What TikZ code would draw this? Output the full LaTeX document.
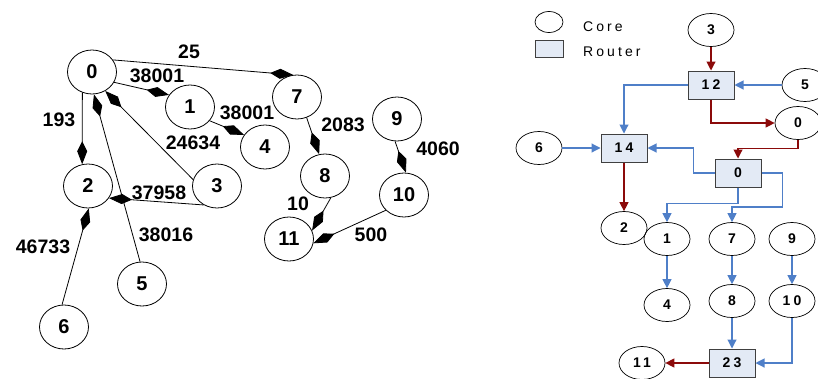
\documentclass[tikz,border=0pt]{standalone}
\usepackage{fontspec}
\setmainfont{Liberation Sans}
\newfontfamily\spaced[LetterSpace=22]{Liberation Sans}
\usetikzlibrary{shapes.geometric, arrows.meta}
\definecolor{netR}{HTML}{8B0A0A}
\definecolor{netB}{HTML}{4F7FC8}
\definecolor{rfill}{HTML}{E3EAF5}
\colorlet{rdraw}{black!75}
\tikzset{
  task/.style   ={ellipse, draw, line width=0.8pt, inner sep=0pt,
                  minimum width=49pt, minimum height=44pt,
                  font=\fontsize{20}{20}\selectfont\bfseries},
  wlabel/.style ={inner sep=0pt, font=\fontsize{19.5}{19.5}\selectfont\bfseries},
  flow/.style   ={-{Kite[length=23pt, width=10pt, inset=10pt]}, line width=0.8pt},
  core/.style   ={ellipse, draw, line width=0.7pt, inner sep=0pt,
                  minimum width=46pt, minimum height=33pt,
                  font=\fontsize{14}{14}\selectfont\spaced\bfseries},
  router/.style ={rectangle, draw=rdraw, fill=rfill, line width=1pt, inner sep=0pt,
                  minimum width=46pt, minimum height=28pt,
                  font=\fontsize{14}{14}\selectfont\spaced\bfseries},
  linkR/.style  ={-{Triangle[length=9pt, width=9pt]}, netR, line width=1.1pt},
  linkB/.style  ={-{Triangle[length=9pt, width=9pt]}, netB, line width=1.1pt},
  legtext/.style={inner sep=0pt, anchor=base west,
                  font=\fontsize{14}{14}\selectfont\spaced},
}
\begin{document}
\begin{tikzpicture}[x=1pt, y=-1pt]
\useasboundingbox (0,0) rectangle (818,378);

% task graph
\foreach \id/\x/\y in {0/92/72, 1/190/107, 2/88/186, 3/217/186, 4/265/147,
                       5/142/284, 6/64/327, 7/297/97, 8/325/176, 9/397/119,
                       10/404/195, 11/289/239}
  \node[task] (t\id) at (\x,\y) {\id};

\foreach \a/\sa/\b/\sb in {0/30/7/100, 0/335/1/150, 1/325/4/150, 0/245/2/105,
                           5/95/0/275, 3/165/0/305, 3/235/2/330, 6/95/2/272,
                           7/295/8/105, 9/265/10/85, 8/285/11/20, 10/220/11/350}
  \draw[flow] (t\a.\sa) -- (t\b.\sb);

\foreach \n/\x/\y/\w in {a/189/52/25, b/157/76/38001, c/59/120/193, d/247/113/38001,
                         e/193/143/24634, f/159/193/37958, g/166/235/38016,
                         h/43/247/46733, i/343/125/2083, j/438/149/4060,
                         k/298/204/10, l/371/235/500}
  \node[wlabel] (w\n) at (\x,\y) {\w};

% legend
\node[core, minimum width=28pt, minimum height=21pt] (legC) at (549,22) {};
\node[router, minimum width=28pt, minimum height=17pt] (legR) at (549,49) {};
\node[legtext] (legCt) at (583,31) {Core};
\node[legtext] (legRt) at (583,56) {Router};

% mapped network
\foreach \id/\lbl/\x/\y in {c3/3/711/30, c5/5/805/85, c0/0/798/123, c6/6/539/148,
                            c2/2/624/228, c1/1/667/239, c7/7/732/239, c9/9/792/239,
                            c4/4/667/305, c8/8/732/301, c10/10/792/301, c11/11/642/363}
  \node[core] (\id) at (\x,\y) {\lbl};

\foreach \id/\lbl/\x/\y in {r12/12/711/85, r14/14/624/148, r0/0/738/173, r23/23/732/363}
  \node[router] (\id) at (\x,\y) {\lbl};

\draw[linkR] (c3) -- (r12);
\draw[linkR] (r12.south) |- (c0.west);
\draw[linkR] (c0.south) -- ++(0,9) -| (r0.north);
\draw[linkR] (r14) -- (c2);
\draw[linkR] (r23) -- (c11);

\draw[linkB] (c5) -- (r12);
\draw[linkB] (r12.west) -| (r14.north);
\draw[linkB] (c6) -- (r14);
\draw[linkB] (r0.west) -- ++(-21,0) |- (r14.east);
\draw[linkB] (r0.south) -- ++(0,16) -| (c1.north);
\draw[linkB] (r0.east) -- ++(21,0) -- ++(0,34) -| (c7.north);
\foreach \a/\b in {c1/c4, c7/c8, c9/c10, c8/r23}
  \draw[linkB] (\a) -- (\b);
\draw[linkB] (c10.south) |- (r23.east);

\end{tikzpicture}
\end{document}
